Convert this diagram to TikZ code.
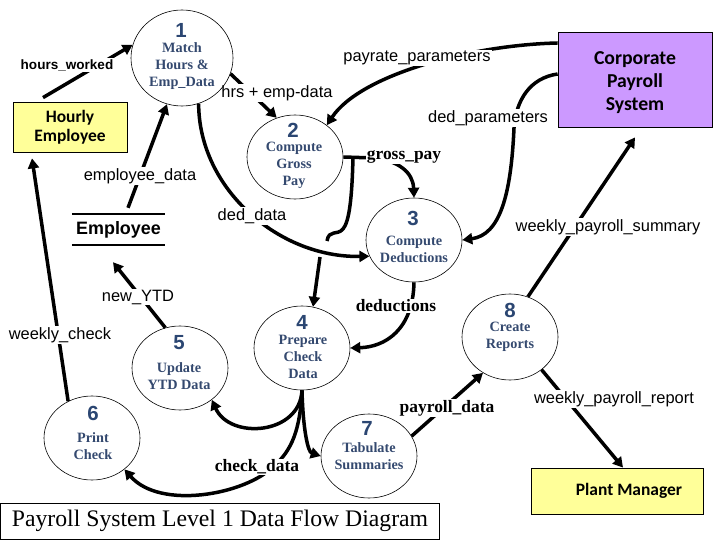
\documentclass[tikz,border=0pt]{standalone}
\usepackage{fontspec}
\setmainfont{Liberation Serif}
\newfontfamily\arialf{Liberation Sans}
\newfontfamily\calib{Carlito}
\usetikzlibrary{shapes.geometric,arrows.meta}
\definecolor{numblue}{HTML}{2B4672}
\definecolor{txtblue}{HTML}{34496F}
\definecolor{boxyellow}{HTML}{FFFF99}
\definecolor{boxpurple}{HTML}{CC99FF}
\pgfdeclarelayer{bg}
\pgfsetlayers{bg,main}
\begin{document}
\begin{tikzpicture}[x=1bp,y=-1bp,
  proc/.style={ellipse,draw,line width=0.6bp,minimum width=96bp,minimum height=84bp,inner sep=0pt},
  num/.style={font=\arialf\bfseries\fontsize{20.5}{22}\selectfont,text=numblue,inner sep=0pt},
  ptxt/.style={font=\bfseries\fontsize{14.3}{17}\selectfont,text=txtblue,align=center,inner sep=0pt},
  ext/.style={draw,line width=0.8bp,align=center,font=\calib\bfseries\fontsize{17.5}{19}\selectfont},
  flowline/.style={line width=3.5bp},
  flow/.style={line width=3.5bp,-{Triangle[length=10bp,width=11bp]}},
  lab/.style={font=\arialf\fontsize{16.5}{18}\selectfont,fill=white,inner sep=1bp},
  tlab/.style={font=\bfseries\fontsize{17.5}{19}\selectfont,fill=white,inner sep=1bp}]
\useasboundingbox (0,0) rectangle (720,540);

% processes
\node[proc,minimum width=102bp,minimum height=96bp] (c1) at (182,58) {};
\node[proc] (c2) at (295,157) {};
\node[proc] (c3) at (414,240) {};
\node[proc] (c4) at (302,348) {};
\node[proc] (c5) at (180,368) {};
\node[proc] (c6) at (92,438) {};
\node[proc] (c7) at (369,456) {};
\node[proc,minimum height=86bp] (c8) at (510,337) {};

\node[num] (n1) at (181,30) {1};
\node[ptxt] (t1) at (182,66) {Match\\Hours \&\\Emp\_Data};
\node[num] (n2) at (293,130) {2};
\node[ptxt] (t2) at (294,165) {Compute\\Gross\\Pay};
\node[num] (n3) at (413,218) {3};
\node[ptxt] (t3) at (414,249) {Compute\\Deductions};
\node[num] (n4) at (302,322) {4};
\node[ptxt] (t4) at (303,357) {Prepare\\Check\\Data};
\node[num] (n5) at (179,343) {5};
\node[ptxt] (t5) at (179,376.5) {Update\\YTD Data};
\node[num] (n6) at (93,413) {6};
\node[ptxt] (t6) at (93,446.5) {Print\\Check};
\node[num] (n7) at (367,428) {7};
\node[ptxt] (t7) at (369,456.5) {Tabulate\\Summaries};
\node[num] (n8) at (510,310) {8};
\node[ptxt] (t8) at (510,336.5) {Create\\Reports};

% external entities
\node[ext,fill=boxyellow,minimum width=114bp,minimum height=50bp] (he) at (70,127) {Hourly\\Employee};
\node[ext,fill=boxpurple,minimum width=154bp,minimum height=95bp,font=\calib\bfseries\fontsize{19.8}{23.5}\selectfont] (cps) at (635,79.5) {\rule{0pt}{19bp}Corporate\\Payroll\\System};
\node[ext,fill=boxyellow,minimum width=172bp,minimum height=46bp] (pm) at (617,491) {\hspace*{24bp}Plant Manager};

% data store
\node[font=\arialf\bfseries\fontsize{18}{20}\selectfont,minimum width=93bp,minimum height=31bp,inner sep=0pt] (emp) at (118.5,229.5) {Employee};
\draw[line width=2.5bp] (emp.north west) -- (emp.north east) (emp.south west) -- (emp.south east);

% title
\node[draw,line width=1bp,minimum width=438bp,minimum height=36bp,font=\fontsize{23.8}{26}\selectfont,inner sep=0pt] (title) at (220,521) {Payroll System Level 1 Data Flow Diagram};

\begin{pgfonlayer}{bg}
\coordinate (gj) at (353,157);
\coordinate (gb) at (320,257);
\draw[flow] ([xshift=-27bp,yshift=4bp]he.north) -- (c1.165);
\draw[flow] (c1.-18) -- (c2.115);
\draw[flow] ([yshift=36.5bp]cps.west) .. controls (470,45) and (360,75) .. (c2.45);
\draw[flow] ([yshift=5.5bp]cps.west) .. controls (530,78) and (516,100) .. (514,128) .. controls (511,195) and (500,235) .. (c3.east);
\draw[flow] (c2.east) -- (375,158) .. controls (398,161) and (413,172) .. (c3.north);
\draw[flowline] (gj) .. controls (352,200) and (349,222) .. (343,229) .. controls (337,236) and (329,229) .. (327,241);
\draw[flow] (gb) -- (c4.75);
\draw[flow] (c1.-70) .. controls (199,190) and (280,258) .. (c3.200);
\draw[flow] ([xshift=9.5bp,yshift=6bp]emp.north) -- (c1.-108);
\draw[flow] (c3.south) .. controls (413,330) and (385,347) .. (c4.east);
\draw[flow] (c5.110) -- ([xshift=-5.5bp,yshift=-17bp]emp.south);
\draw[flow] (c6.123) -- ([xshift=-38bp,yshift=-6bp]he.south);
\draw[flow] (c4.south) .. controls (300,435) and (230,440) .. (c5.-45);
\draw[flow] (c4.south) .. controls (303,430) and (308,452) .. (c7.west);
\draw[flow] (c4.south) .. controls (300,430) and (292,450) .. (274,466) .. controls (245,495) and (160,510) .. (c6.-44);
\draw[flow] (c7.25) -- (c8.233);
\draw[flow] (c8.66) -- ([yshift=-10bp]cps.south);
\draw[flow] (c8.-46) -- ([xshift=6bp]pm.north);

\node[lab,font=\arialf\bfseries\fontsize{13.6}{15}\selectfont] (l1) at (67,65) {hours\_worked};
\node[lab] (l2) at (277,93) {hrs + emp-data};
\node[lab] (l3) at (417,58) {payrate\_parameters};
\node[lab] (l4) at (488,118) {ded\_parameters};
\node[tlab] (l5) at (404,157) {gross\_pay};
\node[lab] (l6) at (140,176) {employee\_data};
\node[lab] (l7) at (252,216) {ded\_data};
\node[lab] (l8) at (608,227) {weekly\_payroll\_summary};
\node[lab] (l9) at (138,297) {new\_YTD};
\node[lab] (l10) at (60,335) {weekly\_check};
\node[tlab] (l11) at (396,306) {deductions};
\node[tlab] (l12) at (447,408) {payroll\_data};
\node[lab] (l13) at (614,399) {weekly\_payroll\_report};
\node[tlab] (l14) at (257,467) {check\_data};
\end{pgfonlayer}
\end{tikzpicture}
\end{document}
